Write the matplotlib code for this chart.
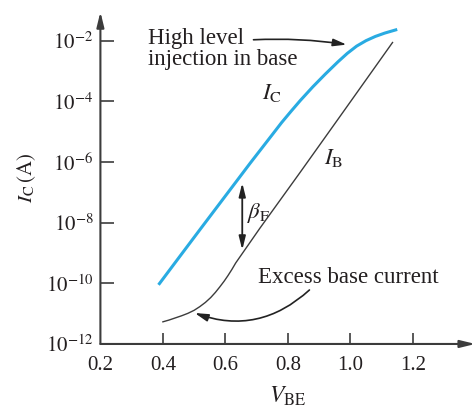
import numpy as np
import matplotlib
matplotlib.use('Agg')
import matplotlib.pyplot as plt

plt.rcParams['font.family'] = ['Liberation Serif', 'DejaVu Serif']
plt.rcParams['mathtext.fontset'] = 'stix'

# collector current I_C (log10 A) vs V_BE
vbe_c = [0.386, 0.45, 0.52, 0.60, 0.68, 0.75, 0.78, 0.81, 0.84, 0.88,
         0.92, 0.96, 0.99, 1.02, 1.05, 1.08, 1.11, 1.15]
ic_log = [-10.05, -9.17, -8.21, -7.12, -6.03, -5.10, -4.70, -4.33, -3.97, -3.52,
          -3.10, -2.70, -2.42, -2.18, -2.00, -1.86, -1.75, -1.63]

# base current I_B (log10 A) vs V_BE
vbe_b = [0.400, 0.420, 0.440, 0.460, 0.480, 0.500, 0.518, 0.536, 0.553, 0.568,
         0.582, 0.596, 0.608, 0.621, 0.633, 0.710, 0.838, 0.966, 1.135]
ib_log = [-11.27, -11.21, -11.14, -11.07, -10.99, -10.89, -10.77, -10.63, -10.47, -10.30,
          -10.12, -9.93, -9.75, -9.54, -9.33, -8.19, -6.36, -4.51, -2.06]

xticks = [0.2, 0.4, 0.6, 0.8, 1.0, 1.2]
xticklabels = ['0.2', '0.4', '0.6', '0.8', '1.0', '1.2']
yexp = [-12, -10, -8, -6, -4, -2]

blue = '#29abe2'
dark = '#3c3c3c'
txt = '#231f20'
fs = 15
fa = 16.5

fig = plt.figure(figsize=(4.77, 4.09), dpi=100)
ax = fig.add_axes([0.2105, 0.159, 0.786, 0.812])

ax.plot(vbe_c, 10.0**np.array(ic_log), color=blue, lw=2.2, solid_capstyle='butt')
ax.plot(vbe_b, 10.0**np.array(ib_log), color=dark, lw=1.0)

ax.set_yscale('log')
ax.set_xlim(0.2, 1.40)
ax.set_ylim(1e-12, 10**-1.05)

for s in ax.spines.values():
    s.set_visible(False)

# axes with arrow heads
ap = dict(arrowstyle='-|>,head_length=0.9,head_width=0.22', color=dark, lw=1.5,
          shrinkA=0, shrinkB=0)
ax.annotate('', xy=(1.0, 0), xytext=(0, 0), xycoords='axes fraction', arrowprops=ap)
ax.annotate('', xy=(0, 1.0), xytext=(0, 0), xycoords='axes fraction', arrowprops=ap)

ax.set_xticks(xticks)
ax.set_xticklabels(xticklabels)
ax.set_yticks([10.0**e for e in yexp])
ax.set_yticklabels([r'$10^{%d}$' % e for e in yexp])
ax.minorticks_off()
ax.tick_params(axis='x', direction='in', length=8, width=1.2, color=dark,
               labelsize=fs, labelcolor=txt, pad=9)
ax.tick_params(axis='y', direction='in', length=10, width=1.2, color=dark,
               labelsize=fs, labelcolor=txt, pad=5)
ax.xaxis.get_major_ticks()[0].tick1line.set_visible(False)
ax.yaxis.get_major_ticks()[0].tick1line.set_visible(False)

ax.set_xlabel(r'$V_{\mathrm{BE}}$', fontsize=fs + 2, color=txt, labelpad=7)
ax.set_ylabel(r'$I_{\mathrm{C}}\,(\mathrm{A})$', fontsize=fs, color=txt, labelpad=6)

# labels on the curves
ax.text(0.748, 10**-3.72, r'$I_{\mathrm{C}}$', fontsize=fa, color=txt,
        ha='center', va='center')
ax.text(0.946, 10**-5.86, r'$I_{\mathrm{B}}$', fontsize=fa, color=txt,
        ha='center', va='center')
ax.text(0.705, 10**-7.68, r'$\beta_{\mathrm{F}}$', fontsize=fa, color=txt,
        ha='center', va='center')
ax.text(0.992, 10**-9.80, 'Excess base current', fontsize=fa, color=txt,
        ha='center', va='center')
ax.text(0.352, 10**-2.27, 'High level\ninjection in base', fontsize=fa, color=txt,
        ha='left', va='center', linespacing=1.0)

# beta_F double arrow
ax.annotate('', xy=(0.654, 10**-6.69), xytext=(0.654, 10**-8.90),
            arrowprops=dict(arrowstyle='<|-|>,head_length=0.8,head_width=0.2',
                            color='#222222', lw=1.3, shrinkA=0, shrinkB=0))

# pointer arrows
hp = dict(arrowstyle='-|>,head_length=0.8,head_width=0.22', color='#222222', lw=1.2,
          shrinkA=0, shrinkB=0)
ax.annotate('', xy=(0.988, 10**-2.13), xytext=(0.690, 10**-1.97),
            arrowprops=dict(hp, connectionstyle='arc3,rad=-0.05'))
ax.annotate('', xy=(0.502, 10**-10.98), xytext=(0.869, 10**-10.22),
            arrowprops=dict(hp, connectionstyle='arc3,rad=-0.3'))

fig.savefig('out.png', dpi=100)
